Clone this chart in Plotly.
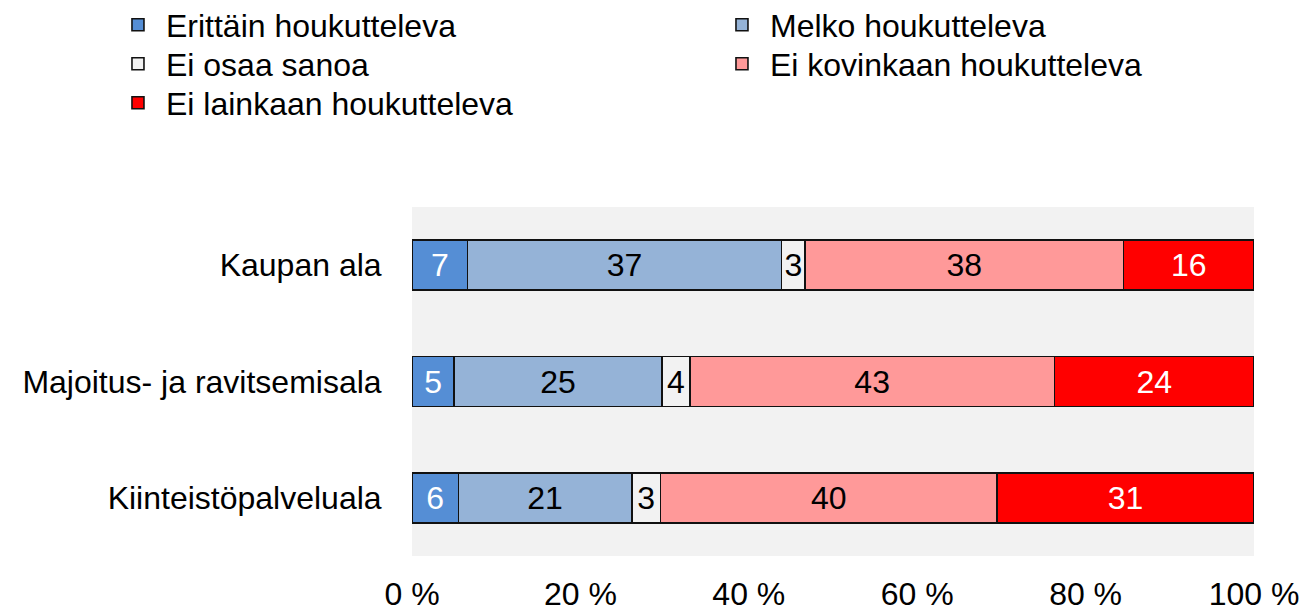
import plotly.graph_objects as go

categories = ["Kaupan ala", "Majoitus- ja ravitsemisala", "Kiinteistöpalveluala"]
series_names = ["Erittäin houkutteleva", "Melko houkutteleva", "Ei osaa sanoa",
                "Ei kovinkaan houkutteleva", "Ei lainkaan houkutteleva"]

# bar lengths (% of respondents)
erittain = [6.6, 5.0, 5.5]
melko = [37.3, 24.7, 20.6]
ei_osaa = [2.8, 3.3, 3.4]
ei_kovinkaan = [37.8, 43.3, 40.0]
ei_lainkaan = [15.5, 23.7, 30.5]

# value labels as printed in the bars
lab_erittain = [7, 5, 6]
lab_melko = [37, 25, 21]
lab_ei_osaa = [3, 4, 3]
lab_ei_kovinkaan = [38, 43, 40]
lab_ei_lainkaan = [16, 24, 31]

tick_vals = [0, 20, 40, 60, 80, 100]
tick_text = ["0 %", "20 %", "40 %", "60 %", "80 %", "100 %"]

values = [erittain, melko, ei_osaa, ei_kovinkaan, ei_lainkaan]
labels = [lab_erittain, lab_melko, lab_ei_osaa, lab_ei_kovinkaan, lab_ei_lainkaan]
colors = ["#558ED5", "#95B3D7", "#F2F2F2", "#FF9999", "#FF0000"]
text_colors = ["white", "black", "black", "black", "white"]
legend_ids = ["legend", "legend", "legend2", "legend2", "legend3"]

FONT = "Liberation Sans, Arial, sans-serif"
FS = 32

fig = go.Figure()
for name, vals, labs, col, tcol, lg in zip(series_names, values, labels, colors,
                                           text_colors, legend_ids):
    fig.add_trace(go.Bar(
        y=categories, x=vals, name=name, orientation="h",
        marker=dict(color=col, line=dict(color="#111111", width=1.6)),
        text=[str(v) for v in labs], textposition="inside",
        insidetextanchor="middle", textangle=0,
        textfont=dict(color=tcol, size=FS, family=FONT),
        width=0.43, hoverinfo="skip", legend=lg,
    ))

leg_common = dict(
    orientation="h", xanchor="left", yanchor="middle", x=-0.3587,
    entrywidth=543, entrywidthmode="pixels", itemwidth=46, traceorder="normal",
    font=dict(family=FONT, size=FS, color="black"), bgcolor="rgba(0,0,0,0)",
)

fig.update_layout(
    barmode="stack",
    width=1310, height=614,
    margin=dict(l=404, r=64, t=199, b=66, autoexpand=False),
    paper_bgcolor="white", plot_bgcolor="#F2F2F2",
    font=dict(family=FONT, size=FS, color="black"),
    uniformtext=dict(minsize=FS, mode="show"),
    showlegend=True,
    legend=dict(leg_common, y=1.5215),
    legend2=dict(leg_common, y=1.4097),
    legend3=dict(leg_common, y=1.298),
)
fig.update_xaxes(range=[0, 100], tickvals=tick_vals, ticktext=tick_text,
                 showgrid=False, zeroline=False, showline=False, automargin=False,
                 ticks="outside", ticklen=10, tickcolor="rgba(0,0,0,0)",
                 fixedrange=True)
fig.update_yaxes(autorange="reversed", showgrid=False, zeroline=False, showline=False,
                 automargin=False,
                 ticks="outside", ticklen=23, tickcolor="rgba(0,0,0,0)",
                 fixedrange=True)

fig.write_html("out.html")
